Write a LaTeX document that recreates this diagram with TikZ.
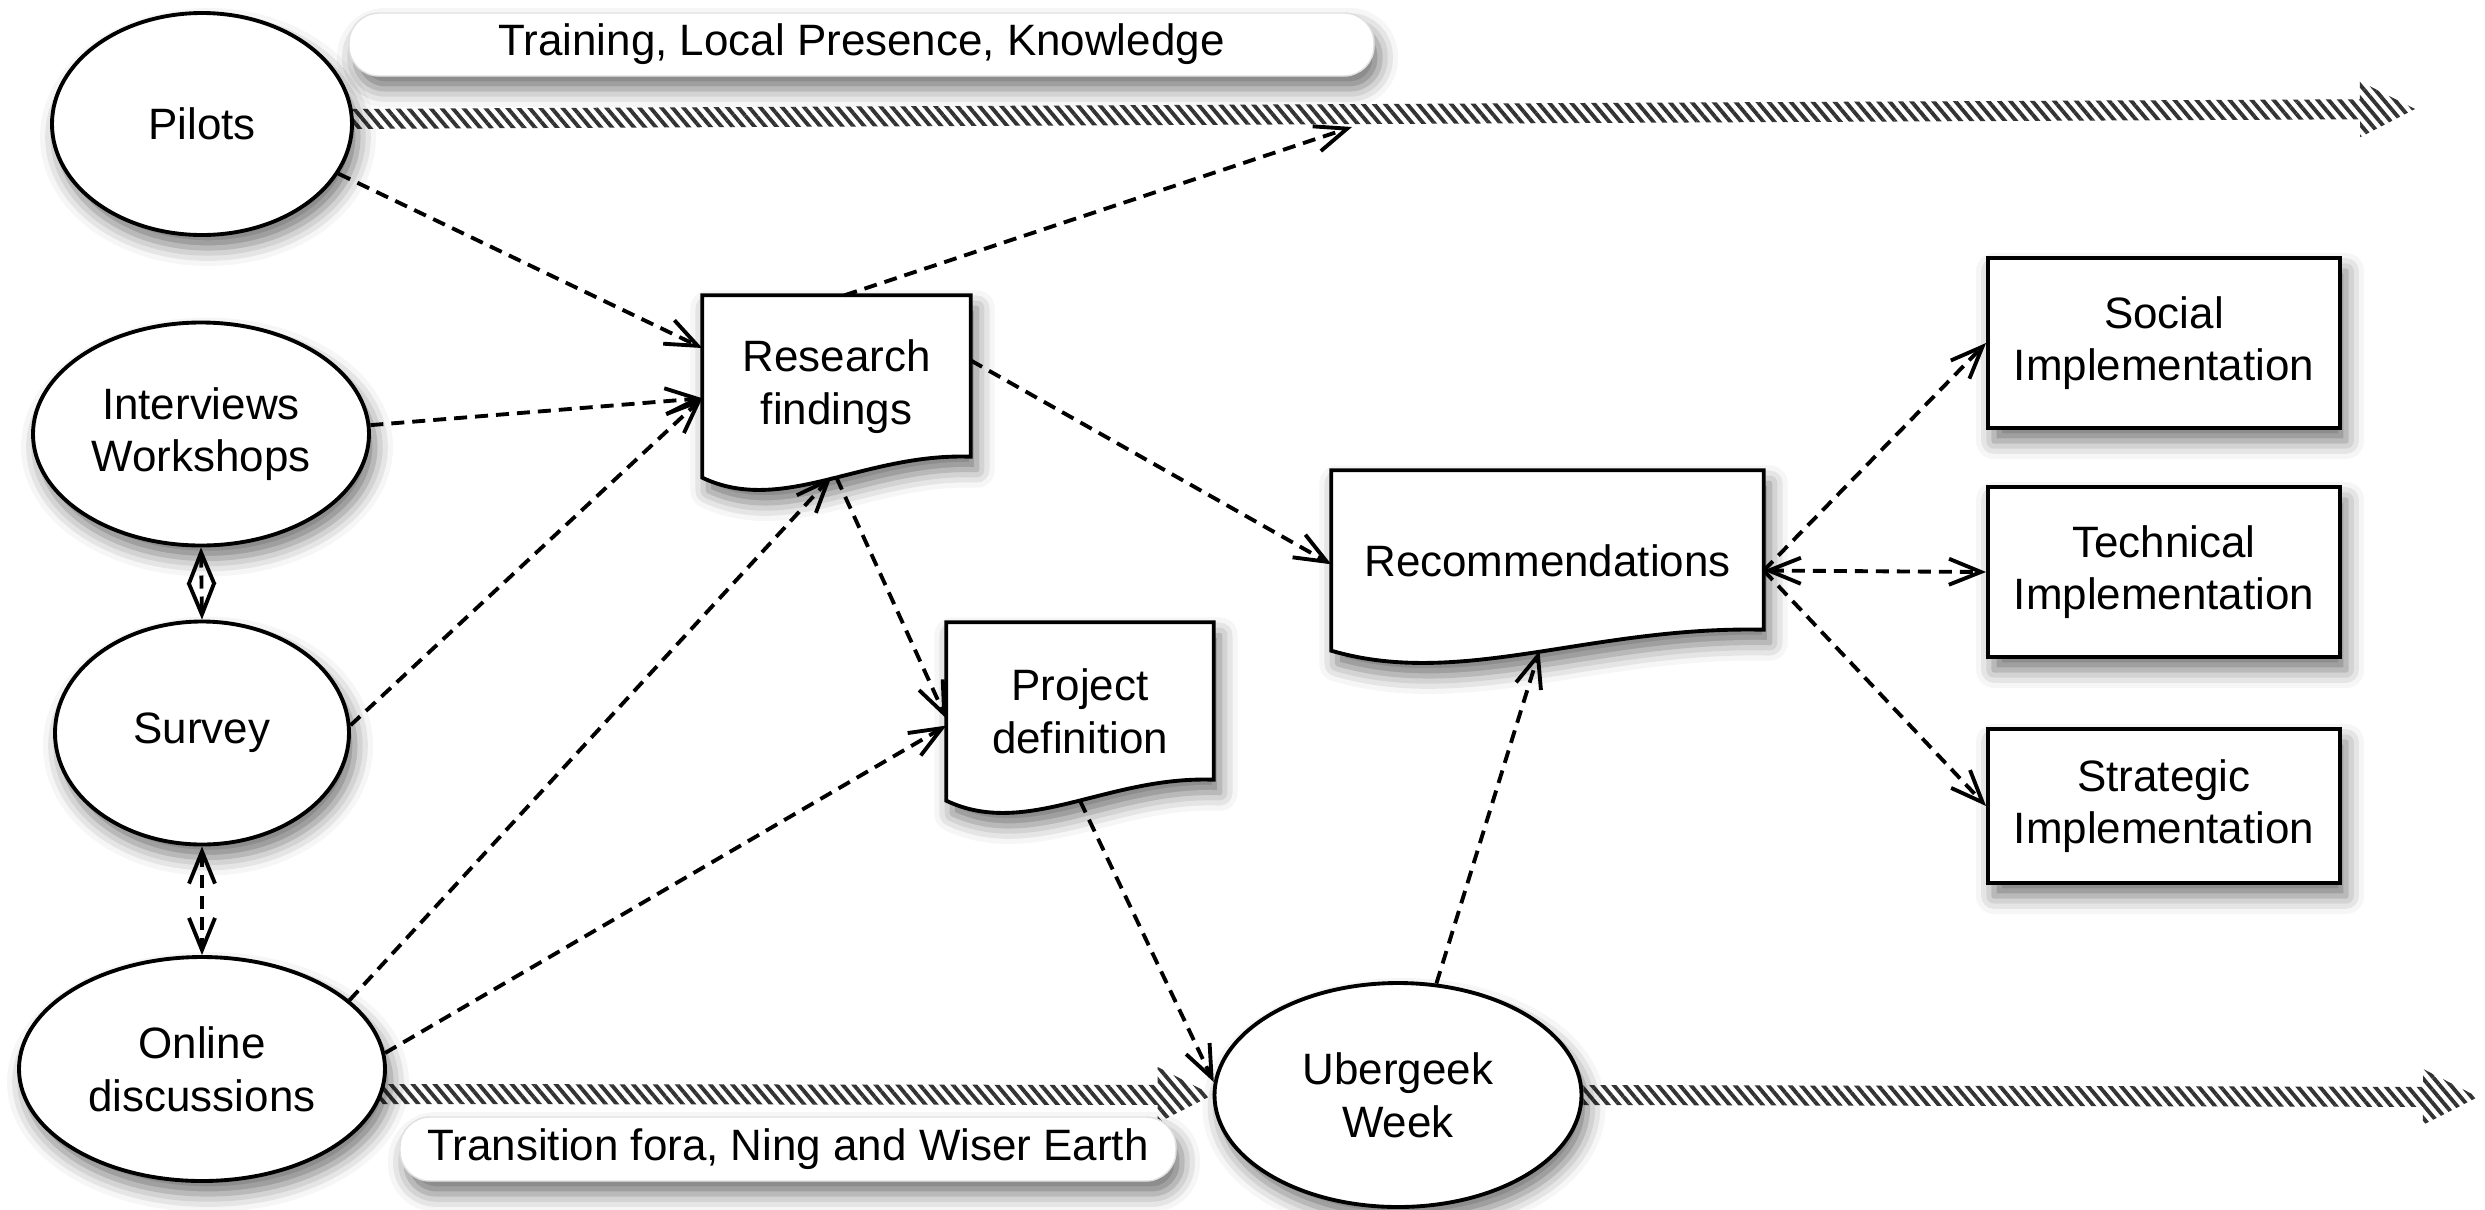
\documentclass[tikz,border=0pt]{standalone}
\usepackage{fontspec}
\setmainfont{Liberation Sans}
\usetikzlibrary{arrows.meta,calc,shapes.geometric,patterns.meta,backgrounds,shadows.blur}

% outline of a document node, wavy bottom edge
\newcommand{\docframe}[1]{%
  \filldraw[docline] (#1.north west) -- (#1.north east) -- ($(#1.south east)+(0,0.21)$)
    .. controls ($(#1.south west)!0.6!(#1.south east)+(0,0.25)$) and ($(#1.south west)!0.3!(#1.south east)+(0,-0.38)$) .. (#1.south west) -- cycle;}

% wide striped arrow between two points
\newcommand{\widearrow}[2]{%
  \coordinate (hb) at ($(#2)!5.5mm!(#1)$);
  \fill[hatch] ($(#1)!1mm!90:(#2)$) -- ($(hb)!1mm!90:(#2)$) -- ($(hb)!2.8mm!90:(#2)$) -- (#2)
    -- ($(hb)!2.8mm!-90:(#2)$) -- ($(hb)!1mm!-90:(#2)$) -- ($(#1)!1mm!-90:(#2)$) -- cycle;}

\begin{document}
\begin{tikzpicture}[
  >={Straight Barb[length=3.2mm,width=2.6mm]},
  every node/.style={font=\fontsize{12.5}{15}\selectfont},
  shade/.style={blur shadow={shadow xshift=0.6mm,shadow yshift=-1.3mm,shadow blur radius=1.8mm,shadow opacity=55}},
  oval/.style={ellipse,draw,line width=1.1pt,fill=white,inner sep=0pt,align=center,shade},
  doc/.style={inner sep=0pt,align=center},
  docline/.style={line width=1.1pt,fill=white,shade},
  implbox/.style={draw,line width=1.1pt,fill=white,minimum width=35.2mm,inner sep=0pt,align=center,shade},
  tag/.style={fill=white,draw=black!12,rounded corners=3mm,inner sep=0pt,shade},
  link/.style={->,line width=1.1pt,dash pattern=on 1.3mm off 0.8mm},
  hatch/.style={pattern={Lines[angle=-50,distance=2.4pt,line width=1.1pt]},pattern color=black!80}]
  \useasboundingbox (0,0) rectangle (24.85,-12.09);

  % sources
  \node[oval,minimum width=30mm,minimum height=22.2mm] (pilots) at (2.02,-1.24) {Pilots};
  \node[oval,minimum width=33.6mm,minimum height=22.3mm] (inter) at (2.01,-4.34) {Interviews\\Workshops};
  \node[oval,minimum width=29.4mm,minimum height=22.3mm] (survey) at (2.02,-7.33) {Survey};
  \node[oval,minimum width=36.6mm,minimum height=22.4mm] (online) at (2.02,-10.69) {Online\\discussions};
  \node[oval,minimum width=36.7mm,minimum height=22.4mm] (uber) at (13.98,-10.95) {Ubergeek\\Week};

  % documents
  \node[doc,minimum width=26.7mm,minimum height=18.1mm] (rf) at (8.365,-3.865) {Research\\findings};
  \node[doc,minimum width=26.6mm,minimum height=17.7mm] (pd) at (10.80,-7.115) {Project\\definition};
  \node[doc,minimum width=43.1mm,minimum height=17.9mm] (rec) at (15.475,-5.605) {Recommendations};

  % outcomes
  \node[implbox,minimum height=17mm] (social) at (21.64,-3.43) {Social\\Implementation};
  \node[implbox,minimum height=17mm] (tech) at (21.64,-5.72) {Technical\\Implementation};
  \node[implbox,minimum height=15.4mm] (strat) at (21.64,-8.06) {Strategic\\Implementation};

  % labels of the two tracks
  \node[tag,minimum width=102.5mm,minimum height=6.3mm] (train) at (8.615,-0.445) {Training, Local Presence, Knowledge};
  \node[tag,minimum width=77.6mm,minimum height=6.4mm] (trans) at (7.88,-11.49) {Transition fora, Ning and Wiser Earth};

  \coordinate (topstart) at ($(pilots.east)+(-0.2,0.05)$);
  \coordinate (toptip) at (24.15,-1.09);
  \coordinate (topend) at (13.52,-1.27);
  \coordinate (botstart) at ($(online.east)+(-0.1,-0.25)$);
  \coordinate (bottip) at (24.78,-10.97);
  \coordinate (recout) at ($(rec.east)+(0,-0.1)$);

  \begin{scope}[on background layer]
    \widearrow{topstart}{toptip}
    \widearrow{botstart}{uber.west}
    \widearrow{uber.east}{bottip}
    \docframe{rf}
    \docframe{pd}
    \docframe{rec}
  \end{scope}

  % flows
  \draw[link] (pilots.-20) -- (rf.164);
  \draw[link] (inter.3) -- (rf.185);
  \draw[link] (survey.3) -- (rf.185);
  \draw[link] (online.25) -- ($(rf.south)+(-0.05,0.01)$);
  \draw[link] (online.5) -- (pd.186);
  \draw[link] ($(rf.north)+(0.08,0)$) -- (topend);
  \draw[link] (rf.11) -- (rec.181);
  \draw[link] (rf.south) -- (pd.183);
  \draw[link] (pd.south) -- (uber.176);
  \draw[link] (uber.71) -- ($(rec.south)+(-0.08,0)$);
  \draw[link] (recout) -- (social.west);
  \draw[link,<->] (recout) -- (tech.west);
  \draw[link] (recout) -- (strat.west);
  \draw[link,<->] (inter.south) -- (survey.north);
  \draw[link,<->] (survey.south) -- (online.north);
\end{tikzpicture}
\end{document}
